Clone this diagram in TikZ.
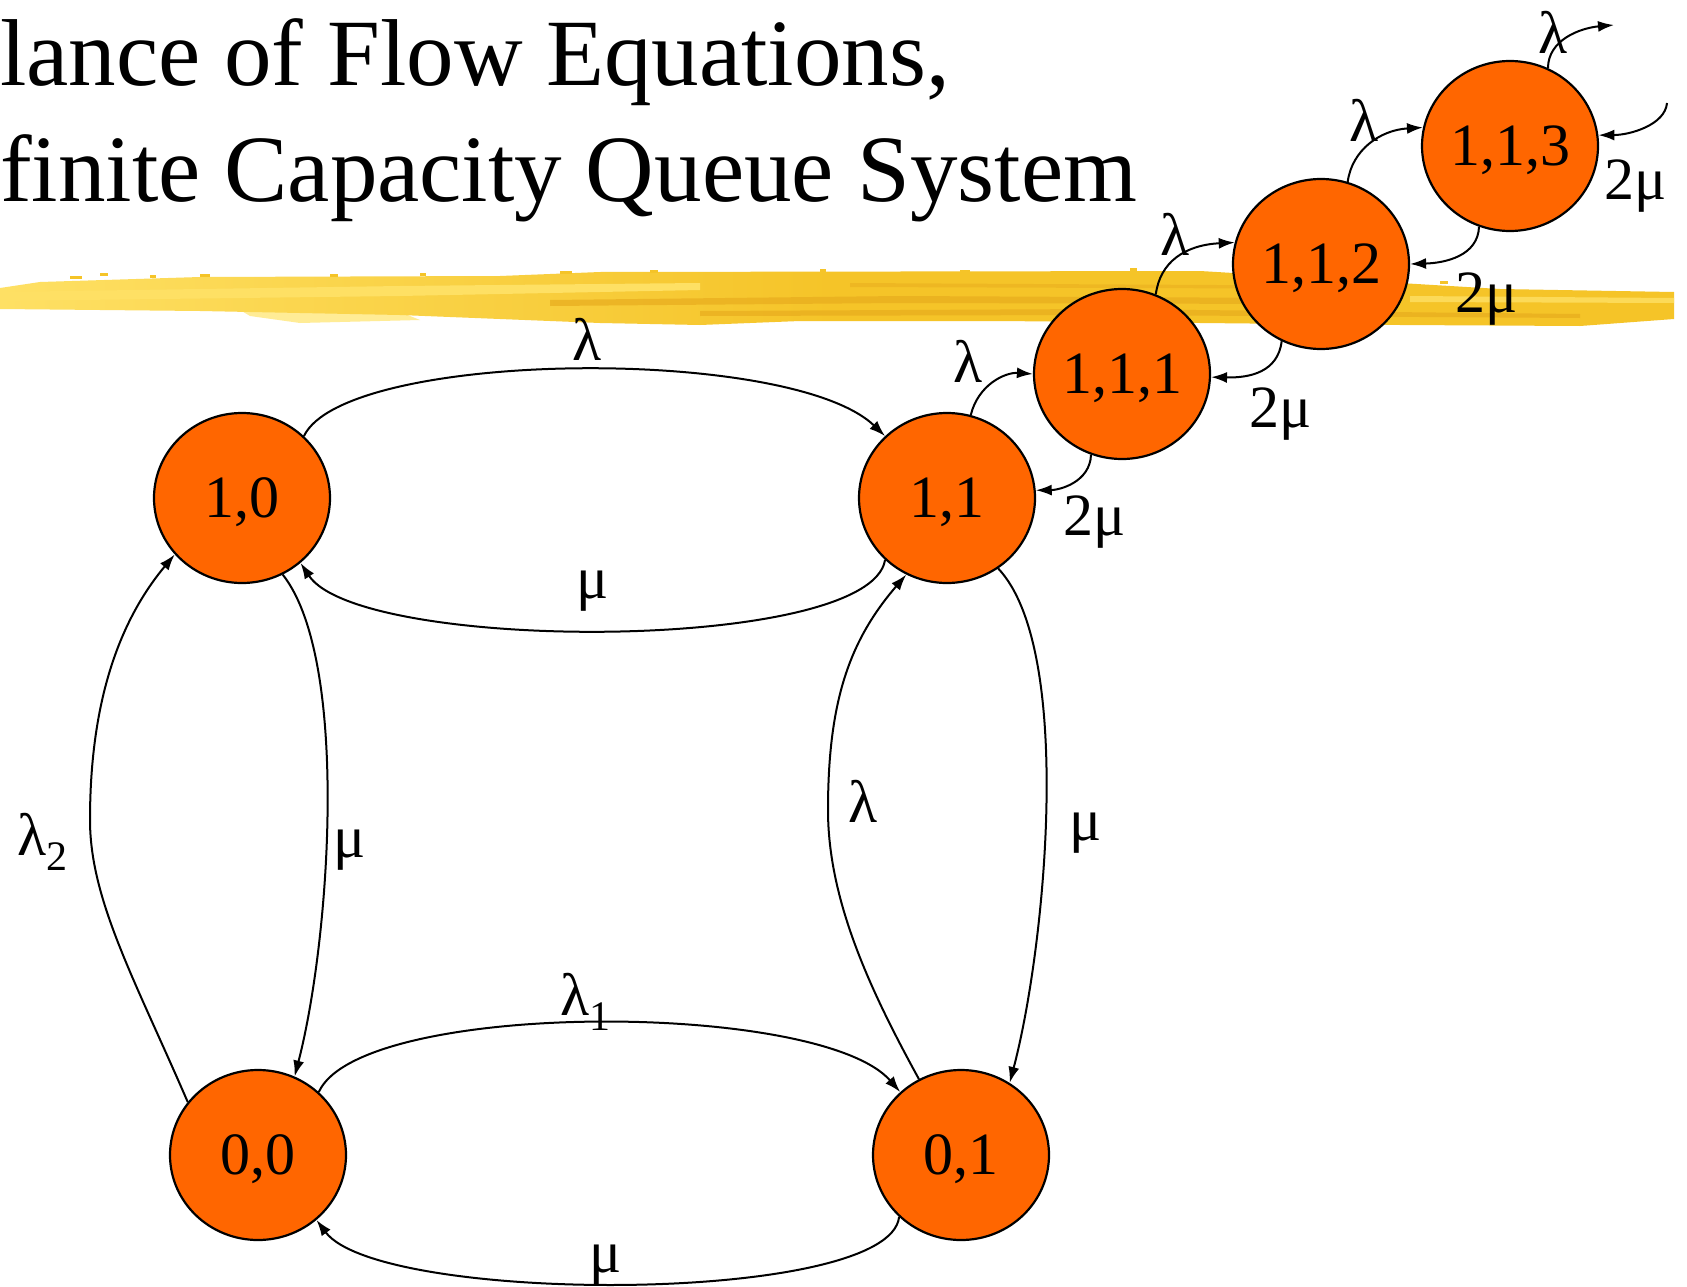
\documentclass[tikz,border=0pt]{standalone}
\usepackage{fontspec}
\setmainfont{Liberation Serif}[Ligatures=NoCommon]
\usetikzlibrary{arrows.meta,shapes.geometric}
\definecolor{nodeorange}{RGB}{255,102,0}
\definecolor{barmain}{RGB}{245,196,40}
\definecolor{barlight}{RGB}{254,224,100}
\definecolor{bardark}{RGB}{232,172,30}
\definecolor{barpale}{RGB}{255,236,150}
\newcommand{\subsc}[1]{{\fontsize{42}{42}\selectfont\raisebox{-15pt}{#1}}}
\begin{document}
\begin{tikzpicture}[x=1pt,y=-1pt,
  state/.style={ellipse,draw=black,line width=2.2pt,fill=nodeorange,
    minimum width=176pt,minimum height=170pt,inner sep=0pt,text depth=0pt,
    font=\fontsize{60}{60}\selectfont},
  lbl/.style={anchor=base west,inner sep=0pt,font=\fontsize{60}{60}\selectfont},
  ttl/.style={anchor=base west,inner sep=0pt,font=\fontsize{95}{95}\selectfont},
  arc/.style={line width=2pt,-{Latex[length=16pt,width=11pt]}},
  speck/.style={fill=barmain},
]
\useasboundingbox (0,0) rectangle (1687,1287);
\fill[white] (0,0) rectangle (1687,1287);

% title
\node[ttl] (t1) at (0,86) {lance of Flow Equations,};
\node[ttl] (t2) at (0,201) {finite Capacity Queue System};

% yellow brush bar
\fill[barpale] (240,310) -- (400,312) -- (420,320) -- (300,323) -- (250,316) -- cycle;
\shade[left color=barlight, right color=barmain, middle color=barmain]
  (0,288) -- (40,282) -- (200,277) -- (500,276) -- (600,272) -- (1200,271)
  -- (1400,283) -- (1500,289) -- (1674,292) -- (1674,319) -- (1580,326)
  -- (1400,325) -- (1000,321) -- (800,321) -- (700,325) -- (600,323)
  -- (400,315) -- (300,313) -- (200,311) -- (0,309) -- cycle;
\fill[barlight] (0,292) -- (400,286) -- (700,283) -- (700,290) -- (400,296) -- (0,301) -- cycle;
\fill[bardark, opacity=0.7] (550,300) -- (900,296) -- (1300,298) -- (1300,304) -- (900,303) -- (550,306) -- cycle;
\fill[bardark, opacity=0.7] (700,311) -- (1100,309) -- (1580,314) -- (1580,318) -- (1100,315) -- (700,316) -- cycle;
\fill[bardark, opacity=0.5] (850,283) -- (1400,286) -- (1400,289) -- (850,287) -- cycle;
\fill[barlight, opacity=0.8] (1410,296) -- (1674,298) -- (1674,303) -- (1410,302) -- cycle;
\foreach \x/\y/\w in {70/276/12,100/273/8,150/275/6,200/274/10,
  330/274/8,420/273/6,560/271/12,650/270/8,
  820/269/6,960/270/10,1130/268/7,1440/281/8}
  \fill[speck] (\x,\y) rectangle ++(\w,3);

% states
\node[state] (n10) at (242,498) {1,0};
\node[state] (n11) at (947,498) {1,1};
\node[state] (n00) at (258,1155) {0,0};
\node[state] (n01) at (961,1155) {0,1};
\node[state] (n111) at (1122,374) {1,1,1};
\node[state] (n112) at (1321,264) {1,1,2};
\node[state] (n113) at (1510,146) {1,1,3};
\coordinate (out15) at (1614,25);
\coordinate (in16) at (1667,103);

% main square
\draw[arc] (n10.45) .. controls (345,350) and (790,345) .. (n11.135);
\draw[arc] (n11.225) .. controls (870,653) and (360,653) .. (n10.-48);
\draw[arc] (n00.143) .. controls (135,980) and (90,900) .. (90,820)
  .. controls (90,700) and (120,620) .. (n10.220);
\draw[arc] (n10.-62) .. controls (350,660) and (330,940) .. (n00.65);
\draw[arc] (n00.46) .. controls (360,1000) and (820,1000) .. (n01.134);
\draw[arc] (n01.225) .. controls (890,1305) and (380,1305) .. (n00.-48);
\draw[arc] (n01.119) .. controls (870,990) and (828,900) .. (828,810)
  .. controls (828,700) and (850,640) .. (n11.242);
\draw[arc] (n11.-54) .. controls (1075,650) and (1045,950) .. (n01.56);

% chain
\draw[arc] (n11.74) .. controls (978,385) and (1005,372) .. (n111.180);
\draw[arc] (n111.249) .. controls (1090,482) and (1060,490) .. (n11.5);
\draw[arc] (n111.67) .. controls (1160,262) and (1185,245) .. (n112.166);
\draw[arc] (n112.243) .. controls (1278,372) and (1250,378) .. (n111.-2);
\draw[arc] (n112.72) .. controls (1352,150) and (1380,130) .. (n113.168);
\draw[arc] (n113.249) .. controls (1478,256) and (1445,263) .. (n112.0);
\draw[arc] (n113.64) .. controls (1548,40) and (1580,28) .. (out15);
\draw[arc] (in16) .. controls (1665,125) and (1630,135) .. (n113.7);

% labels
\node[lbl] (l1) at (572,360) {λ};
\node[lbl] (l2) at (576,598) {μ};
\node[lbl] (l3) at (17,855) {λ\subsc{2}};
\node[lbl] (l4) at (333,857) {μ};
\node[lbl] (l5) at (560,1015) {λ\subsc{1}};
\node[lbl] (l6) at (589,1272) {μ};
\node[lbl] (l7) at (848,822) {λ};
\node[lbl] (l8) at (1069,840) {μ};
\node[lbl] (l9) at (1063,535) {2μ};
\node[lbl] (l10) at (953,382) {λ};
\node[lbl] (l11) at (1160,255) {λ};
\node[lbl] (l12) at (1249,427) {2μ};
\node[lbl] (l13) at (1349,142) {λ};
\node[lbl] (l14) at (1455,312) {2μ};
\node[lbl] (l15) at (1538,54) {λ};
\node[lbl] (l16) at (1604,199) {2μ};
\end{tikzpicture}
\end{document}
